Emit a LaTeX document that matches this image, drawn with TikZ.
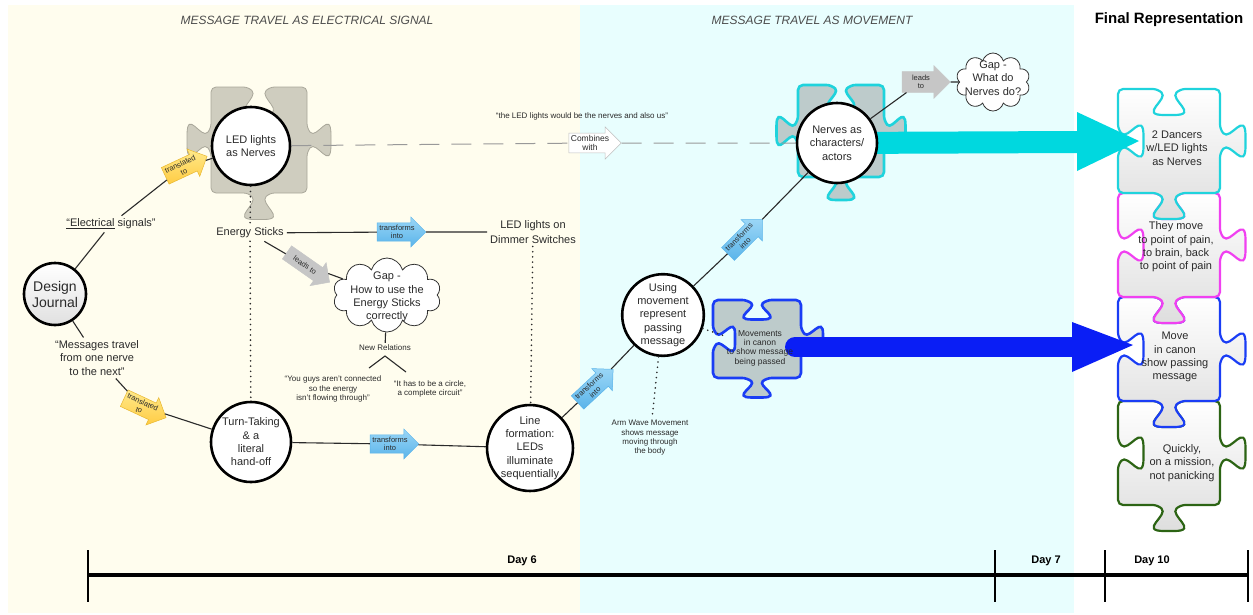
\documentclass[tikz,border=0pt]{standalone}
\usepackage{fontspec}
\setmainfont{Liberation Sans}
\usetikzlibrary{shapes.arrows,shapes.symbols,calc}
\pgfdeclarelayer{panels}
\pgfdeclarelayer{pieces}
\pgfdeclarelayer{bigarrows}
\pgfsetlayers{panels,pieces,bigarrows,main}

\definecolor{panelY}{HTML}{FFFDEE}
\definecolor{panelC}{HTML}{E8FEFE}
\definecolor{ledgray}{HTML}{CFCDBF}
\definecolor{ledgrayline}{HTML}{A9A79A}
\definecolor{tealgray}{HTML}{BDCBCB}
\definecolor{nervecyan}{HTML}{1FD3DC}
\definecolor{bigcyan}{HTML}{00D8DF}
\definecolor{bigblue}{HTML}{0A1EF5}
\definecolor{pieceblue}{HTML}{1A3DF5}
\definecolor{piecemag}{HTML}{F040F0}
\definecolor{piecegreen}{HTML}{2C6414}
\definecolor{yellowtop}{HTML}{FFE98A}
\definecolor{yellowbot}{HTML}{FFCC44}
\definecolor{yellowline}{HTML}{E8B830}
\definecolor{bluetop}{HTML}{9AD6F6}
\definecolor{bluebot}{HTML}{5AB4EA}
\definecolor{grayarrow}{HTML}{C6C6C6}
\definecolor{inktext}{HTML}{2A2A2A}

% jigsaw piece in a unit square; the last four arguments give the
% top, right, bottom and left tabs: 1 = knob out, -1 = notch in
\newcommand\puzzlepiece[5]{%
 \path[#1] (-1,1) -- (-0.22,1)
  .. controls (0,{1+0.2*(#2)}) and (-0.6,{1+0.5*(#2)}) .. (0,{1+0.5*(#2)})
  .. controls (0.6,{1+0.5*(#2)}) and (0,{1+0.2*(#2)}) .. (0.22,1)
  -- (1,1) -- (1,0.22)
  .. controls ({1+0.2*(#3)},0) and ({1+0.5*(#3)},0.6) .. ({1+0.5*(#3)},0)
  .. controls ({1+0.5*(#3)},-0.6) and ({1+0.2*(#3)},0) .. (1,-0.22)
  -- (1,-1) -- (0.22,-1)
  .. controls (0,{-1-0.2*(#4)}) and (0.6,{-1-0.5*(#4)}) .. (0,{-1-0.5*(#4)})
  .. controls (-0.6,{-1-0.5*(#4)}) and (0,{-1-0.2*(#4)}) .. (-0.22,-1)
  -- (-1,-1) -- (-1,-0.22)
  .. controls ({-1-0.2*(#5)},0) and ({-1-0.5*(#5)},-0.6) .. ({-1-0.5*(#5)},0)
  .. controls ({-1-0.5*(#5)},0.6) and ({-1-0.2*(#5)},0) .. (-1,0.22)
  -- cycle;}

\begin{document}
\begin{tikzpicture}[x=1pt,y=-1pt,
  every node/.style={text=inktext},
  circ/.style={circle, draw=black, line width=2.6pt, fill=white, align=center,
    inner sep=0pt, minimum size=78pt, font=\fontsize{11}{13.3}\selectfont},
  lbl/.style={align=center, font=\fontsize{11}{13.3}\selectfont, inner sep=3pt},
  small/.style={align=center, font=\fontsize{8}{9.3}\selectfont, inner sep=2pt},
  hdr/.style={font=\fontsize{12}{14}\selectfont\itshape, text=black!70},
  day/.style={font=\fontsize{11}{13}\selectfont\bfseries, text=black},
  blockarrow/.style={single arrow, single arrow head extend=6pt, inner sep=1.8pt,
    align=center, minimum height=46pt, font=\fontsize{7.5}{8.6}\selectfont, line width=0.5pt},
  yarrow/.style={blockarrow, draw=yellowline, top color=yellowtop, bottom color=yellowbot},
  barrow/.style={blockarrow, draw=bluebot, top color=bluetop, bottom color=bluebot},
  garrow/.style={blockarrow, draw=grayarrow, fill=grayarrow},
  warrow/.style={blockarrow, draw=black!25, fill=white, font=\fontsize{8.5}{9.6}\selectfont},
  conn/.style={draw=inktext, line width=1.1pt},
  dotline/.style={draw=inktext, line width=1.8pt, dash pattern=on 0pt off 5.2pt, line cap=round},
  gapcloud/.style={cloud, cloud puffs=10, cloud ignores aspect, draw=black!80,
    line width=0.8pt, fill=white, inner sep=0pt},
  cloudtext/.style={align=center, font=\fontsize{11}{13.3}\selectfont, inner sep=1pt},
  ledpiece/.style={fill=ledgray, draw=ledgrayline, line width=0.8pt, rounded corners=5pt},
  tealpiece/.style={fill=tealgray, draw=#1, line width=2.6pt, rounded corners=5pt},
  finalpiece/.style={top color=white, bottom color=black!13, draw=#1, line width=2.2pt, rounded corners=5pt}
]
\useasboundingbox (0,0) rectangle (1253,614);

% ---------- panels ----------
\begin{pgfonlayer}{panels}
  \fill[panelY] (8,5) rectangle (580,613);
  \fill[panelC] (580,5) rectangle (1074,613);
\end{pgfonlayer}

\node[hdr] (hElec) at (307,20) {MESSAGE TRAVEL AS ELECTRICAL SIGNAL};
\node[hdr] (hMove) at (812,20) {MESSAGE TRAVEL AS MOVEMENT};
\node[font=\fontsize{15}{17}\selectfont\bfseries, text=black] (hFinal) at (1169,20) {Final Representation};

% ---------- puzzle pieces ----------
\begin{pgfonlayer}{pieces}
  \puzzlepiece{ledpiece, shift={(259,140)}, xscale=48, yscale=-53}{-1}{1}{1}{1}
  \puzzlepiece{tealpiece=nervecyan, shift={(841,131)}, xscale=43, yscale=-46}{-1}{1}{1}{1}
  \puzzlepiece{tealpiece=pieceblue, shift={(757,339)}, xscale=44, yscale=-39}{-1}{1}{1}{-1}
  \puzzlepiece{finalpiece=piecegreen, shift={(1169,453)}, xscale=51, yscale=-52}{-1}{1}{1}{-1}
  \puzzlepiece{finalpiece=pieceblue, shift={(1169,349)}, xscale=51, yscale=-52}{-1}{1}{1}{-1}
  \puzzlepiece{finalpiece=piecemag, shift={(1169,245)}, xscale=51, yscale=-52}{-1}{1}{1}{-1}
  \puzzlepiece{finalpiece=nervecyan, shift={(1169,141)}, xscale=51, yscale=-52}{-1}{1}{1}{-1}
\end{pgfonlayer}

% ---------- circles ----------
\node[circ, minimum size=62pt, top color=white, bottom color=black!12,
  font=\fontsize{14}{16}\selectfont] (dj) at (55,294) {Design\\Journal};
\node[circ] (led) at (251,146) {LED lights\\as Nerves};
\node[circ, minimum size=80pt] (turn) at (251,442) {Turn-Taking\\\& a\\literal\\hand-off};
\node[circ, minimum size=80pt] (linef) at (530,448) {Line\\formation:\\LEDs\\illuminate\\sequentially};
\node[circ, minimum size=80pt] (using) at (663,315) {Using\\movement\\represent\\passing\\message};
\node[circ, minimum size=80pt] (nerves) at (837,143) {Nerves as\\characters/\\actors};

% ---------- labels ----------
\node[lbl] (elec) at (111,224) {\underline{“Electrical} signals”};
\node[lbl] (msg) at (97,358) {“Messages travel\\from one nerve\\to the next”};
\node[lbl] (energy) at (250,233) {Energy Sticks};
\node[lbl, font=\fontsize{11}{14.5}\selectfont] (dimmer) at (533,232) {LED lights on\\Dimmer Switches};
\node[gapcloud, minimum width=108pt, minimum height=74pt] (gap1) at (387,295) {};
\node[cloudtext] (gap1txt) at (387,297) {Gap -\\How to use the\\Energy Sticks\\correctly};
\node[small] (newrel) at (385,348) {New Relations};
\node[small] (q1) at (333,389) {“You guys aren’t connected\\so the energy\\isn’t flowing through”};
\node[small] (q2) at (430,389) {“It has to be a circle,\\a complete circuit”};
\node[small] (arm) at (650,438) {Arm Wave Movement\\shows message\\moving through\\the body};
\node[small] (ledq) at (582,116) {“the LED lights would be the nerves and also us”};
\node[gapcloud, minimum width=74pt, minimum height=58pt] (gap2) at (993,82) {};
\node[cloudtext] (gap2txt) at (993,78) {Gap -\\What do\\Nerves do?};
\node[small, font=\fontsize{8.5}{9.3}\selectfont] (mvtxt) at (760,348)
  {Movements\\in canon\\to show message\\being passed};

\node[lbl] (fin1) at (1177,148) {2 Dancers\\w/LED lights\\as Nerves};
\node[lbl] (fin2) at (1176,247) {They move\\to point of pain,\\to brain, back\\to point of pain};
\node[lbl] (fin3) at (1175,357) {Move\\in canon\\show passing\\message};
\node[lbl] (fin4) at (1182,463) {Quickly,\\on a mission,\\not panicking};

% ---------- block arrows ----------
\node[yarrow, rotate=25] (tr1) at (182,168) {translated\\to};
\node[yarrow, rotate=-25] (tr2) at (141,406) {translated\\to};
\node[barrow] (tf1) at (397,232) {transforms\\into};
\node[barrow] (tf2) at (390,444) {transforms\\into};
\node[barrow, rotate=43] (tf3) at (592,389) {transforms\\into};
\node[barrow, rotate=45] (tf4) at (742,240) {transforms\\into};
\node[garrow, rotate=-35, inner ysep=5pt, minimum height=52pt] (lead1) at (305,265) {leads to};
\node[garrow, minimum height=48pt, inner ysep=3pt] (lead2) at (921,82) {leads\\to};
\node[warrow] (comb) at (590,143) {Combines\\with};

% ---------- connectors ----------
\draw[conn] (dj) -- (elec);
\draw[conn] (elec) -- (tr1);
\draw[conn] (tr1) -- (led);
\draw[conn] (dj) -- (msg);
\draw[conn] (msg) -- (tr2);
\draw[conn] (tr2) -- (turn);
\draw[dotline] (led) -- (energy);
\draw[dotline] (energy) -- (turn);
\draw[conn] (energy) -- (tf1);
\draw[conn] (tf1) -- (dimmer);
\draw[conn] (energy) -- (lead1);
\draw[conn] (lead1) -- (gap1);
\draw[conn] (gap1) -- (newrel);
\coordinate (fork) at (385,356);
\coordinate (forkL) at (369,368);
\coordinate (forkR) at (406,372);
\draw[conn] (forkL) -- (fork) -- (forkR);
\draw[dotline] (dimmer) -- (linef);
\draw[conn] (turn) -- (tf2);
\draw[conn] (tf2) -- (linef);
\draw[conn] (linef) -- (tf3);
\draw[conn] (tf3) -- (using);
\draw[conn] (using) -- (tf4);
\draw[conn] (tf4) -- (nerves);
\draw[dotline] (using) -- (arm);
\draw[dotline] (using) -- (mvtxt);
\draw[conn] (nerves) -- (lead2);
\draw[conn] (lead2) -- (gap2);
\draw[draw=black!40, line width=1pt, dash pattern=on 20pt off 12pt] (led) -- (comb);
\draw[draw=black!40, line width=1pt, dash pattern=on 20pt off 12pt] (comb) -- (nerves);

% ---------- wide arrows into the final pieces ----------
\begin{pgfonlayer}{bigarrows}
  \coordinate (cyanTip) at (1139,141);
  \coordinate (blueTip) at (1133,345);
  \draw[bigcyan, line width=22pt] (nerves.center) -- (1077,142);
  \fill[bigcyan] (1077,112) -- (cyanTip) -- (1077,171) -- cycle;
  \draw[bigblue, line width=20pt, line cap=round] (795,347) -- (1072,347);
  \fill[bigblue] (1072,322) -- (blueTip) -- (1072,372) -- cycle;
\end{pgfonlayer}

% ---------- timeline ----------
\draw[line width=4pt] (88,575) -- (1248,575);
\foreach \tx in {88,995,1105,1248}
  \draw[line width=2.4pt] (\tx,550) -- (\tx,602);
\node[day] (d6) at (522,561) {Day 6};
\node[day] (d7) at (1046,561) {Day 7};
\node[day] (d10) at (1152,561) {Day 10};
\end{tikzpicture}
\end{document}
